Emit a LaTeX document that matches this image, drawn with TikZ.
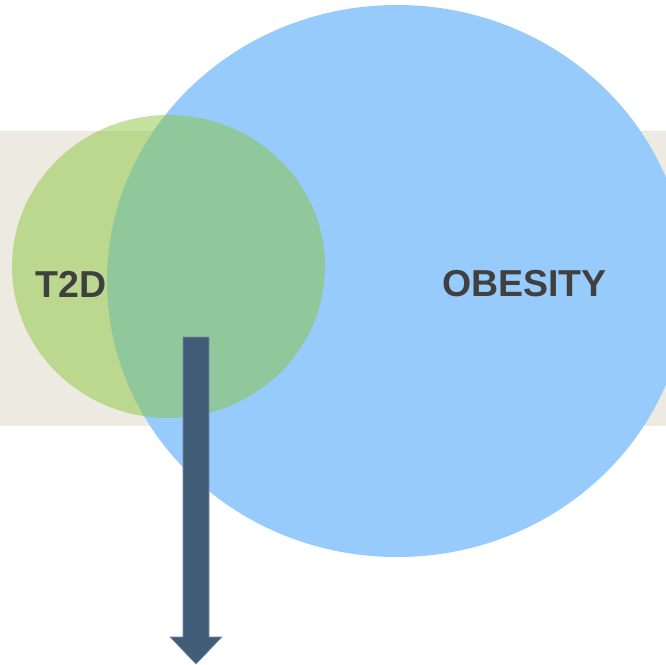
\documentclass[tikz,border=0pt]{standalone}
\usepackage{fontspec}
\setmainfont{Liberation Sans}
\definecolor{bandbeige}{HTML}{EDEBE1}
\definecolor{obesityblue}{HTML}{96CBFC}
\definecolor{diabgreen}{HTML}{8CC63E}
\definecolor{arrowslate}{HTML}{425D78}
\definecolor{arrowedge}{HTML}{7A8CA0}
\definecolor{labelgray}{HTML}{404040}
\begin{document}
\begin{tikzpicture}[x=1pt, y=-1pt,
    vennlabel/.style={text=labelgray, font=\bfseries\fontsize{37.5}{40}\selectfont}]
        \useasboundingbox (0, 0) rectangle (666, 664);
        \fill[bandbeige] (0, 131) rectangle (666, 426);

        \fill[obesityblue] (397, 281) ellipse [x radius=290, y radius=276];
        \fill[diabgreen, fill opacity=.5] (168.5, 266.5) ellipse [x radius=156.5, y radius=151.5];

        \coordinate (arrowtop) at (196, 337);
        \coordinate (arrowtip) at (196, 664);
        \filldraw[fill=arrowslate, draw=arrowedge, line width=.6]
            (183, 337) -- (209, 337) -- (209, 637) -- (222, 637)
            -- (arrowtip) -- (170, 637) -- (183, 637) -- cycle;

        \node[vennlabel] (t2d) at (71, 284) {T2D};
        \node[vennlabel] (obesity) at (524.5, 284) {OBESITY};
\end{tikzpicture}
\end{document}
